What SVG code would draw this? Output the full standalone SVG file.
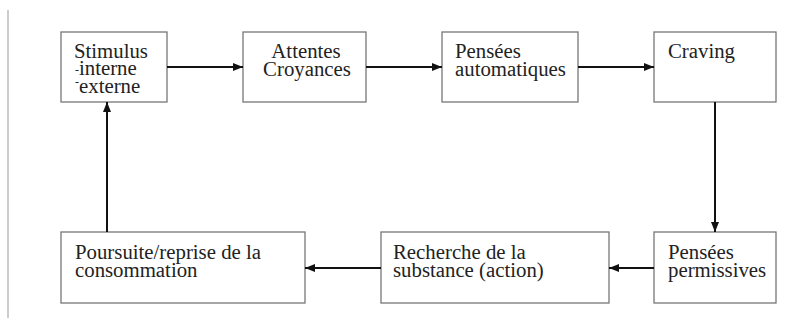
<svg xmlns="http://www.w3.org/2000/svg" width="794" height="333" viewBox="0 0 794 333">
<style>
.box{fill:#fff;stroke:#777;stroke-width:1.3}
.c{text-anchor:middle}
.ar{stroke:#111;stroke-width:2;fill:none;marker-end:url(#ah)}
</style>
<defs>
<marker id="ah" viewBox="0 0 10 8" refX="10" refY="4" markerWidth="10" markerHeight="8" markerUnits="userSpaceOnUse" orient="auto">
<path d="M0,0 L10,4 L0,8 z" fill="#111"/>
</marker>
</defs>
<rect width="794" height="333" fill="#fff"/>
<line x1="8" y1="10" x2="8" y2="318" stroke="#aaa" stroke-width="1.2"/>
<g font-family="Liberation Serif, Times New Roman, serif" font-size="20.8" fill="#222">
<g id="stimulus">
<rect class="box" x="61" y="32" width="106" height="70"/>
<text x="74" y="58">Stimulus<tspan x="75" y="74" font-size="12">-</tspan><tspan y="75">interne</tspan><tspan x="75" y="86" font-size="12">-</tspan><tspan y="93">externe</tspan></text>
</g>
<g id="attentes">
<rect class="box" x="243" y="32" width="123" height="70"/>
<text class="c" x="306" y="58">Attentes<tspan x="307" y="76">Croyances</tspan></text>
</g>
<g id="pensees-auto">
<rect class="box" x="442" y="32" width="136" height="70"/>
<text x="455" y="58">Pensées<tspan x="455" y="76">automatiques</tspan></text>
</g>
<g id="craving">
<rect class="box" x="654" y="32" width="122" height="70"/>
<text x="668" y="58">Craving</text>
</g>
<g id="pensees-perm">
<rect class="box" x="654" y="232" width="122" height="71"/>
<text x="668" y="259">Pensées<tspan x="668" y="277">permissives</tspan></text>
</g>
<g id="recherche">
<rect class="box" x="381" y="232" width="228" height="71"/>
<text x="393" y="259">Recherche de la<tspan x="393" y="277">substance (action)</tspan></text>
</g>
<g id="poursuite">
<rect class="box" x="61" y="232" width="244" height="71"/>
<text x="75" y="259">Poursuite/reprise de la<tspan x="75" y="277">consommation</tspan></text>
</g>
</g>
<g id="connectors">
<line class="ar" x1="167" y1="67" x2="243" y2="67"/>
<line class="ar" x1="366" y1="67" x2="442" y2="67"/>
<line class="ar" x1="578" y1="67" x2="654" y2="67"/>
<line class="ar" x1="715" y1="102" x2="715" y2="232"/>
<line class="ar" x1="654" y1="268" x2="609" y2="268"/>
<line class="ar" x1="381" y1="268" x2="305" y2="268"/>
<line class="ar" x1="107" y1="232" x2="107" y2="102"/>
</g>
</svg>
